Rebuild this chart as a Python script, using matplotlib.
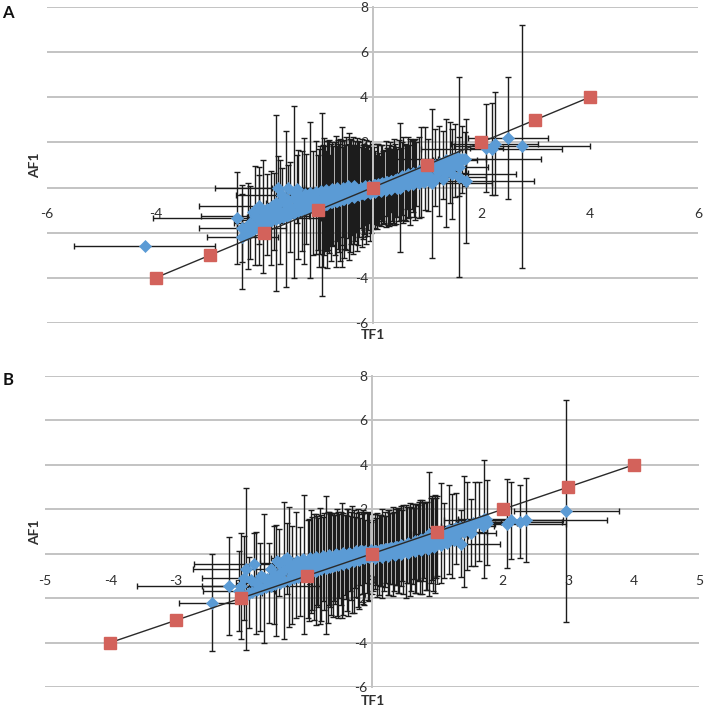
import matplotlib
matplotlib.use('Agg')
import matplotlib.pyplot as plt

plt.rcParams['font.family'] = ['Lato', 'DejaVu Sans']

# ================= Panel A =================
# points with clearly visible error bars
a_x = [-4.20, -2.50, -2.40, -2.40, -2.30, -2.25, -2.17, -2.10, -2.10, -2.02,
       -1.95, -1.88, -1.82, -1.77, -1.75, -1.70, -1.66, -1.60, -1.56, -1.52,
       -1.44, -1.40, -1.38, -1.30, -1.27, -1.22, -1.16, -1.10, -1.05, -1.00,
       -0.94, -0.90, -0.86, -0.82, -0.78, -0.74, -0.70, -0.66, -0.62, -0.57,
       -0.54, -0.50, -0.46, -0.42, -0.38, -0.34, -0.30, -0.26, -0.22, -0.18,
       -0.14, -0.10, -0.06, -0.02, 0.02, 0.06, 0.10, 0.14, 0.18, 0.22,
       0.26, 0.30, 0.34, 0.38, 0.42, 0.46, 0.51, 0.55, 0.60, 0.64,
       0.68, 0.72, 0.76, 0.80, 0.85, 0.90, 0.97, 1.02, 1.10, 1.16,
       1.22, 1.30, 1.36, 1.42, 1.47, 1.52, 1.60, 1.60, 1.65, 1.70,
       1.73, 2.10, 2.20, 2.25, 2.50, 2.76]
a_y = [-2.60, -1.35, -1.80, -2.20, -1.70, -1.55, -1.24, -0.80, -1.45, -1.30,
       -1.20, -1.35, -1.05, -0.70, 0.00, -1.10, -0.35, -0.95, 0.00, -0.85,
       -0.20, -0.05, -0.75, -0.60, -0.60, -0.50, -0.55, -0.70, -0.45, -0.65,
       -0.75, -0.40, -0.60, -0.35, -0.55, -0.30, -0.50, -0.25, -0.45, -0.40,
       -0.20, -0.40, -0.15, -0.35, -0.10, -0.30, -0.05, -0.25, 0.00, -0.20,
       0.05, -0.15, 0.05, -0.10, 0.10, -0.05, 0.15, 0.00, 0.20, 0.05,
       0.25, 0.10, 0.30, 0.15, 0.35, 0.20, 0.00, 0.40, 0.25, 0.45,
       0.30, 0.55, 0.40, 0.60, 0.45, 0.70, 0.85, 0.55, 0.20, 0.90,
       0.75, 1.00, 0.65, 1.10, 0.60, 1.20, 0.45, 0.93, 1.25, 1.28,
       0.30, 1.75, 1.70, 1.95, 2.20, 1.82]
a_xerr = [1.30, 1.55, 0.80, 0.65, 0.20, 0.30, 1.00, 1.10, 0.40, 0.30,
          0.25, 0.20, 0.35, 0.20, 1.15, 0.15, 0.85, 0.20, 0.30, 0.25,
          0.15, 0.30, 0.20, 0.25, 0.20, 0.30, 0.15, 0.20, 0.25, 0.20,
          0.15, 0.30, 0.20, 0.25, 0.20, 0.30, 0.20, 0.25, 0.20, 0.15,
          0.25, 0.20, 0.30, 0.20, 0.25, 0.20, 0.25, 0.20, 0.20, 0.15,
          0.20, 0.15, 0.20, 0.15, 0.15, 0.20, 0.15, 0.20, 0.15, 0.20,
          0.20, 0.15, 0.25, 0.20, 0.20, 0.20, 0.15, 0.25, 0.20, 0.20,
          0.20, 0.25, 0.20, 0.20, 0.25, 0.20, 0.30, 0.25, 1.10, 0.30,
          0.35, 0.30, 0.40, 0.30, 1.17, 0.40, 0.50, 0.52, 0.45, 1.40,
          1.25, 0.30, 1.30, 0.80, 0.74, 1.25]
a_yerr = [0.00, 2.05, 1.50, 2.30, 1.90, 1.60, 2.20, 1.70, 2.00, 2.50,
          1.80, 2.10, 1.70, 3.90, 1.40, 2.30, 1.20, 3.45, 1.00, 2.00,
          3.80, 1.50, 2.40, 2.20, 2.80, 2.00, 3.45, 2.30, 2.50, 2.10,
          4.05, 2.60, 2.20, 2.40, 2.00, 2.30, 2.50, 2.10, 2.40, 3.10,
          2.00, 2.30, 2.10, 2.50, 2.00, 2.20, 1.90, 2.30, 1.80, 2.10,
          1.70, 2.00, 1.60, 1.90, 1.70, 1.50, 1.80, 1.40, 1.70, 1.60,
          1.50, 1.80, 1.40, 1.70, 1.60, 1.50, 2.85, 1.60, 1.70, 1.40,
          1.60, 1.50, 1.70, 1.40, 1.80, 2.00, 1.85, 1.60, 3.30, 1.70,
          2.00, 1.50, 2.40, 1.80, 2.00, 1.60, 4.43, 1.30, 1.50, 1.20,
          2.75, 1.95, 2.05, 2.30, 2.70, 5.40]

# dense core of points near the origin
a_core_x = [-0.99, -0.96, -0.92, -0.88, -0.84, -0.80, -0.76, -0.72, -0.68, -0.64,
            -0.60, -0.56, -0.52, -0.48, -0.44, -0.40, -0.36, -0.32, -0.28, -0.24,
            -0.20, -0.16, -0.12, -0.08, -0.04, 0.00, 0.04, 0.08, 0.12, 0.16,
            0.20, 0.24, 0.28, 0.32, 0.36, 0.40, 0.44, 0.48, 0.53, 0.57,
            0.62, 0.66, 0.70, 0.74, 0.78]
a_core_y = [-0.90, -0.55, -0.80, -0.45, -0.75, -0.40, -0.65, -0.35, -0.60, -0.30,
            -0.55, -0.25, -0.50, -0.25, -0.40, -0.20, -0.35, -0.15, -0.30, -0.10,
            -0.25, -0.05, -0.20, 0.00, -0.15, 0.05, -0.10, 0.05, -0.05, 0.10,
            0.00, 0.15, 0.05, 0.20, 0.10, 0.25, 0.10, 0.30, 0.15, 0.35,
            0.20, 0.45, 0.25, 0.50, 0.35]
a_core_xerr = [0.10, 0.20, 0.10, 0.15, 0.10, 0.20, 0.10, 0.15, 0.10, 0.20,
               0.10, 0.15, 0.10, 0.20, 0.10, 0.15, 0.10, 0.20, 0.10, 0.15,
               0.10, 0.15, 0.10, 0.15, 0.10, 0.10, 0.15, 0.10, 0.15, 0.10,
               0.15, 0.10, 0.15, 0.10, 0.15, 0.10, 0.15, 0.10, 0.15, 0.10,
               0.15, 0.10, 0.15, 0.10, 0.15]
a_core_yerr = [2.60, 2.40, 2.70, 2.30, 2.80, 2.50, 2.60, 2.20, 2.90, 2.40,
               2.70, 2.30, 2.60, 2.50, 2.80, 2.30, 2.60, 2.20, 2.50, 2.10,
               2.40, 2.00, 2.30, 1.90, 2.20, 1.90, 1.70, 1.90, 1.60, 1.80,
               1.60, 1.90, 1.70, 1.80, 1.60, 1.90, 1.70, 1.80, 1.60, 1.90,
               1.70, 1.80, 1.90, 1.60, 1.80]

# band of markers without visible error bars
a_band_x = [-2.32, -2.25, -2.18, -2.12, -2.05, -1.98, -1.92, -1.85, -1.78, -1.72,
            -1.65, -1.58, -1.52, -1.45, -1.38, -1.32, -1.25, -1.18, -1.12, -1.05,
            -2.20, -2.05, -1.95, -1.85, -1.75, -1.65, -1.55, -1.45, -1.35, -1.25,
            -1.15, -1.05, -0.95, -0.85, -0.75, -0.65, -0.55, -0.45, -0.35,
            -0.95, -0.85, -0.75, -0.65, -0.55, -0.45, -0.35, -0.25, -0.15, -0.05,
            0.05, 0.15, 0.25, 0.35, 0.45, 0.55, 0.65, 0.75, 0.85, 0.95, 1.05, 1.15,
            0.05, 0.15, 0.25, 0.35, 0.45, 0.55, 0.65, 0.75, 0.85, 0.95, 1.05, 1.15,
            1.25, 1.35, 1.45, 1.55,
            0.60, 0.80, 1.00, 1.20, 1.40, 1.30, 1.50]
a_band_y = [-2.05, -1.95, -1.85, -1.75, -1.65, -1.60, -1.55, -1.45, -1.40, -1.35,
            -1.30, -1.25, -1.18, -1.12, -1.05, -1.00, -0.95, -0.90, -0.85, -0.80,
            -1.10, -1.00, -0.95, -0.80, -0.75, -0.60, -0.55, -0.45, -0.35, -0.30,
            -0.25, -0.20, -0.15, -0.10, -0.05, 0.00, 0.00, 0.05, 0.05,
            -0.80, -0.75, -0.65, -0.60, -0.50, -0.45, -0.40, -0.35, -0.30, -0.25,
            -0.20, -0.15, -0.10, -0.05, 0.00, 0.05, 0.10, 0.15, 0.20, 0.25, 0.30, 0.40,
            0.10, 0.15, 0.25, 0.30, 0.40, 0.50, 0.58, 0.65, 0.75, 0.85, 0.95, 1.00,
            1.10, 1.20, 1.25, 1.35,
            0.30, 0.45, 0.60, 0.70, 0.85, 0.40, 1.00]

# ================= Panel B =================
b_x = [-2.45, -2.19, -2.03, -2.00, -1.95, -1.93, -1.88, -1.80, -1.78, -1.72,
       -1.65, -1.58, -1.50, -1.47, -1.42, -1.35, -1.30, -1.27, -1.22, -1.16,
       -1.10, -1.04, -0.98, -0.93, -0.88, -0.84, -0.80, -0.75, -0.70, -0.66,
       -0.62, -0.58, -0.54, -0.50, -0.46, -0.42, -0.38, -0.34, -0.30, -0.26,
       -0.22, -0.18, -0.14, -0.10, -0.06, -0.02, 0.02, 0.06, 0.10, 0.14,
       0.18, 0.22, 0.26, 0.30, 0.34, 0.38, 0.42, 0.46, 0.52, 0.56,
       0.60, 0.64, 0.68, 0.72, 0.76, 0.80, 0.84, 0.87, 0.92, 0.96,
       1.00, 1.05, 1.10, 1.18, 1.22, 1.28, 1.36, 1.41, 1.46, 1.52,
       1.58, 1.63, 1.71, 1.76, 2.07, 2.12, 2.26, 2.35, 2.97]
b_y = [-2.20, -1.45, -1.67, -1.45, -1.10, -0.68, -1.75, -0.45, -1.30, -1.50,
       -1.10, -1.30, -0.95, -1.20, -0.40, -0.75, -0.20, -0.60, -0.95, -0.50,
       -0.80, -0.47, -0.70, -0.35, -0.60, -0.30, -0.55, -0.25, -0.50, -0.20,
       -0.45, -0.15, -0.40, -0.10, -0.30, -0.05, -0.30, 0.00, -0.25, 0.05,
       -0.20, 0.10, -0.15, 0.10, -0.10, 0.15, -0.10, 0.10, -0.05, 0.15,
       0.00, 0.20, 0.05, 0.25, 0.10, 0.30, 0.15, 0.35, 0.10, 0.40,
       0.20, 0.45, 0.25, 0.55, 0.30, 0.60, 0.35, 0.90, 0.70, 0.45,
       0.80, 0.95, 0.60, 1.08, 0.80, 1.15, 0.45, 1.00, 1.25, 0.95,
       1.35, 1.45, 1.57, 1.40, 1.35, 1.50, 1.45, 1.52, 1.94]
b_xerr = [0.50, 1.40, 0.55, 0.60, 0.65, 0.80, 0.20, 0.92, 0.30, 0.25,
          0.30, 0.20, 0.25, 0.20, 0.30, 0.20, 0.25, 0.20, 0.25, 0.20,
          0.25, 0.20, 0.25, 0.20, 0.25, 0.20, 0.25, 0.20, 0.20, 0.25,
          0.20, 0.25, 0.20, 0.25, 0.20, 0.25, 0.20, 0.20, 0.20, 0.20,
          0.15, 0.20, 0.15, 0.20, 0.15, 0.15, 0.15, 0.20, 0.15, 0.20,
          0.15, 0.20, 0.20, 0.20, 0.15, 0.20, 0.20, 0.20, 0.20, 0.25,
          0.20, 0.20, 0.20, 0.25, 0.20, 0.20, 0.20, 0.25, 0.20, 0.20,
          0.25, 0.20, 0.25, 0.30, 0.25, 0.30, 0.60, 0.35, 0.40, 0.38,
          0.30, 0.35, 0.40, 0.45, 0.90, 0.80, 0.65, 1.25, 0.80]
b_yerr = [2.20, 2.20, 1.80, 2.40, 1.90, 3.65, 1.60, 1.40, 2.30, 2.00,
          2.90, 1.80, 2.20, 2.50, 1.50, 3.10, 1.60, 2.70, 2.20, 2.40,
          2.00, 3.13, 2.20, 2.30, 2.40, 2.00, 2.60, 1.90, 3.10, 2.10,
          2.30, 2.00, 2.40, 1.90, 2.60, 1.80, 2.30, 1.70, 2.40, 1.60,
          2.20, 1.50, 2.10, 1.40, 2.00, 1.30, 1.60, 1.50, 1.80, 1.60,
          1.70, 1.50, 1.90, 1.60, 1.80, 1.70, 1.90, 1.60, 2.10, 1.70,
          1.90, 1.60, 2.00, 1.80, 2.10, 1.70, 2.00, 2.80, 1.90, 2.20,
          1.80, 2.25, 1.70, 2.00, 1.90, 1.60, 1.50, 2.50, 2.00, 1.50,
          1.90, 1.80, 2.67, 1.90, 2.00, 1.75, 1.63, 1.90, 5.00]

b_core_x = [-0.97, -0.91, -0.86, -0.82, -0.78, -0.73, -0.68, -0.64, -0.60, -0.56,
            -0.52, -0.48, -0.44, -0.40, -0.36, -0.32, -0.28, -0.24, -0.20, -0.16,
            -0.12, -0.08, -0.04, 0.00, 0.04, 0.08, 0.12, 0.16, 0.20, 0.24,
            0.28, 0.32, 0.36, 0.40, 0.44, 0.48, 0.54, 0.58, 0.62, 0.66,
            0.70, 0.74, 0.78, 0.82, 0.90, 0.94, 0.98]
b_core_y = [-0.75, -0.45, -0.70, -0.40, -0.65, -0.35, -0.60, -0.30, -0.55, -0.25,
            -0.50, -0.20, -0.45, -0.15, -0.40, -0.10, -0.35, -0.05, -0.30, 0.00,
            -0.20, 0.05, -0.15, 0.00, 0.10, -0.05, 0.15, 0.00, 0.20, 0.05,
            0.25, 0.10, 0.30, 0.15, 0.35, 0.20, 0.40, 0.20, 0.45, 0.25,
            0.50, 0.30, 0.55, 0.35, 0.60, 0.40, 0.70]
b_core_xerr = [0.10, 0.20, 0.10, 0.15, 0.10, 0.20, 0.10, 0.15, 0.10, 0.20,
               0.10, 0.15, 0.10, 0.20, 0.10, 0.15, 0.10, 0.20, 0.10, 0.15,
               0.10, 0.15, 0.10, 0.10, 0.15, 0.10, 0.15, 0.10, 0.15, 0.10,
               0.15, 0.10, 0.15, 0.10, 0.15, 0.10, 0.15, 0.10, 0.15, 0.10,
               0.15, 0.10, 0.15, 0.10, 0.15, 0.10, 0.15]
b_core_yerr = [2.30, 2.10, 2.50, 2.00, 2.40, 2.20, 2.50, 2.10, 2.30, 2.00,
               2.40, 2.10, 2.30, 1.90, 2.40, 2.00, 2.30, 1.90, 2.20, 1.80,
               2.10, 1.80, 2.00, 1.80, 1.70, 1.90, 1.60, 2.00, 1.70, 1.90,
               1.60, 2.00, 1.70, 1.90, 1.80, 2.00, 1.70, 2.10, 1.80, 2.00,
               1.70, 2.10, 1.80, 2.00, 1.90, 2.10, 1.80]

b_band_x = [-1.90, -1.83, -1.76, -1.69, -1.62, -1.55, -1.48, -1.41, -1.34, -1.27,
            -1.20, -1.13, -1.06, -0.99, -0.92, -0.85, -0.78, -0.71, -0.64, -0.57,
            -0.50, -0.43, -0.36, -0.29, -0.22, -0.15, -0.08,
            -1.85, -1.70, -1.55, -1.45, -1.35, -1.25, -1.15, -1.05, -0.95, -0.85,
            -0.75, -0.65, -0.55, -0.45, -0.35, -0.25, -0.15,
            -1.60, -1.40, -1.20, -1.00, -0.80, -0.60, -0.40, -0.20,
            0.05, 0.15, 0.25, 0.35, 0.45, 0.55, 0.65, 0.75, 0.85, 0.95, 1.05, 1.15, 1.25,
            0.05, 0.15, 0.25, 0.35, 0.45, 0.55, 0.65, 0.75, 0.85, 0.95, 1.05, 1.15,
            1.25, 1.35, 1.45, 1.55, 1.65, 1.75,
            0.50, 0.70, 0.90, 1.10, 1.30, 1.50, 1.70]
b_band_y = [-1.80, -1.72, -1.65, -1.58, -1.52, -1.45, -1.38, -1.31, -1.24, -1.17,
            -1.10, -1.03, -0.97, -0.90, -0.84, -0.78, -0.71, -0.65, -0.58, -0.52,
            -0.46, -0.40, -0.34, -0.28, -0.22, -0.16, -0.10,
            -1.20, -1.00, -0.70, -0.35, -0.30, -0.45, -0.35, -0.25, -0.20, -0.15,
            -0.10, -0.05, 0.00, 0.05, 0.05, 0.10, 0.12,
            -1.15, -0.85, -0.70, -0.55, -0.45, -0.30, -0.20, -0.10,
            -0.20, -0.15, -0.10, -0.05, 0.00, 0.05, 0.10, 0.15, 0.20, 0.30, 0.40, 0.50, 0.60,
            0.10, 0.15, 0.22, 0.30, 0.38, 0.47, 0.55, 0.65, 0.75, 0.85, 0.95, 1.02,
            1.10, 1.20, 1.30, 1.40, 1.48, 1.55,
            0.20, 0.35, 0.55, 0.70, 0.85, 1.05, 1.25]

# reference (identity) series
ref_vals = [-4, -3, -2, -1, 0, 1, 2, 3, 4]

y_ticks = [-6, -4, -2, 0, 2, 4, 6, 8]
a_xticks = [-6, -4, -2, 0, 2, 4, 6]
b_xticks = [-5, -4, -3, -2, -1, 0, 1, 2, 3, 4, 5]

BLUE = '#5b9bd5'
RED = '#d3625b'
GRID = '#c3c3c3'
TXT = '#303030'
ERR = '#1c1c1c'

W = H = 709
fig = plt.figure(figsize=(7.09, 7.09), dpi=100)


def px_rect(l, r, t, b):
    return [l / W, 1 - b / H, (r - l) / W, (b - t) / H]


def panel(ax, xs, ys, xe, ye, cx, cy, cxe, cye, bx, by, xlim, xticks):
    ax.set_xlim(*xlim)
    ax.set_ylim(-6, 8)
    ax.set_yticks(y_ticks)
    ax.set_xticks(xticks)
    ax.set_yticklabels([str(v) for v in y_ticks])
    ax.set_xticklabels([str(v) for v in xticks])
    ax.set_axisbelow(True)
    ax.yaxis.grid(True, color=GRID, lw=1.4)
    ax.xaxis.grid(False)
    for s in ('top', 'right'):
        ax.spines[s].set_visible(False)
    ax.spines['left'].set_position(('data', 0))
    ax.spines['left'].set_color(GRID)
    ax.spines['left'].set_linewidth(1.4)
    ax.spines['bottom'].set_position(('data', 0))
    ax.spines['bottom'].set_visible(False)
    ax.tick_params(axis='y', length=0, pad=3, labelsize=10, labelcolor=TXT)
    ax.tick_params(axis='x', length=0, pad=15, labelsize=10, labelcolor=TXT)
    ax.patch.set_alpha(0)

    ax.errorbar(cx, cy, xerr=cxe, yerr=cye, fmt='none', ecolor=ERR,
                elinewidth=1.0, capsize=2.3, capthick=1.0, zorder=2)
    ax.errorbar(xs, ys, xerr=xe, yerr=ye, fmt='none', ecolor=ERR,
                elinewidth=1.0, capsize=2.3, capthick=1.0, zorder=2)
    ax.plot(bx, by, 'D', color=BLUE, ms=5.8, mec=BLUE, mew=0.5, zorder=3,
            linestyle='none')
    ax.plot(cx, cy, 'D', color=BLUE, ms=5.8, mec=BLUE, mew=0.5, zorder=3,
            linestyle='none')
    ax.plot(xs, ys, 'D', color=BLUE, ms=5.8, mec=BLUE, mew=0.5, zorder=3,
            linestyle='none')
    ax.plot(ref_vals, ref_vals, '-', color='#2a2a2a', lw=1.0, zorder=4)
    ax.plot(ref_vals, ref_vals, 's', color=RED, ms=8.0, mec=RED, zorder=5,
            linestyle='none')


axA = fig.add_axes(px_rect(47, 698, 7, 323))
panel(axA, a_x, a_y, a_xerr, a_yerr, a_core_x, a_core_y, a_core_xerr, a_core_yerr,
      a_band_x, a_band_y, (-6, 6), a_xticks)

axB = fig.add_axes(px_rect(45, 699, 376, 687))
panel(axB, b_x, b_y, b_xerr, b_yerr, b_core_x, b_core_y, b_core_xerr, b_core_yerr,
      b_band_x, b_band_y, (-5, 5), b_xticks)

# labels
fig.text(8 / W, 1 - 13 / H, 'A', fontsize=12, fontweight='bold', ha='center', va='center', color='#111')
fig.text(8 / W, 1 - 380 / H, 'B', fontsize=12, fontweight='bold', ha='center', va='center', color='#111')
fig.text(35 / W, 1 - 165 / H, 'AF1', fontsize=10, fontweight='bold', rotation=90,
         ha='center', va='center', color=TXT)
fig.text(35 / W, 1 - 532 / H, 'AF1', fontsize=10, fontweight='bold', rotation=90,
         ha='center', va='center', color=TXT)
fig.text(373 / W, 1 - 335 / H, 'TF1', fontsize=10, fontweight='bold',
         ha='center', va='center', color=TXT)
fig.text(373 / W, 1 - 701 / H, 'TF1', fontsize=10, fontweight='bold',
         ha='center', va='center', color=TXT)

fig.savefig('out.png', dpi=100, facecolor='white')
